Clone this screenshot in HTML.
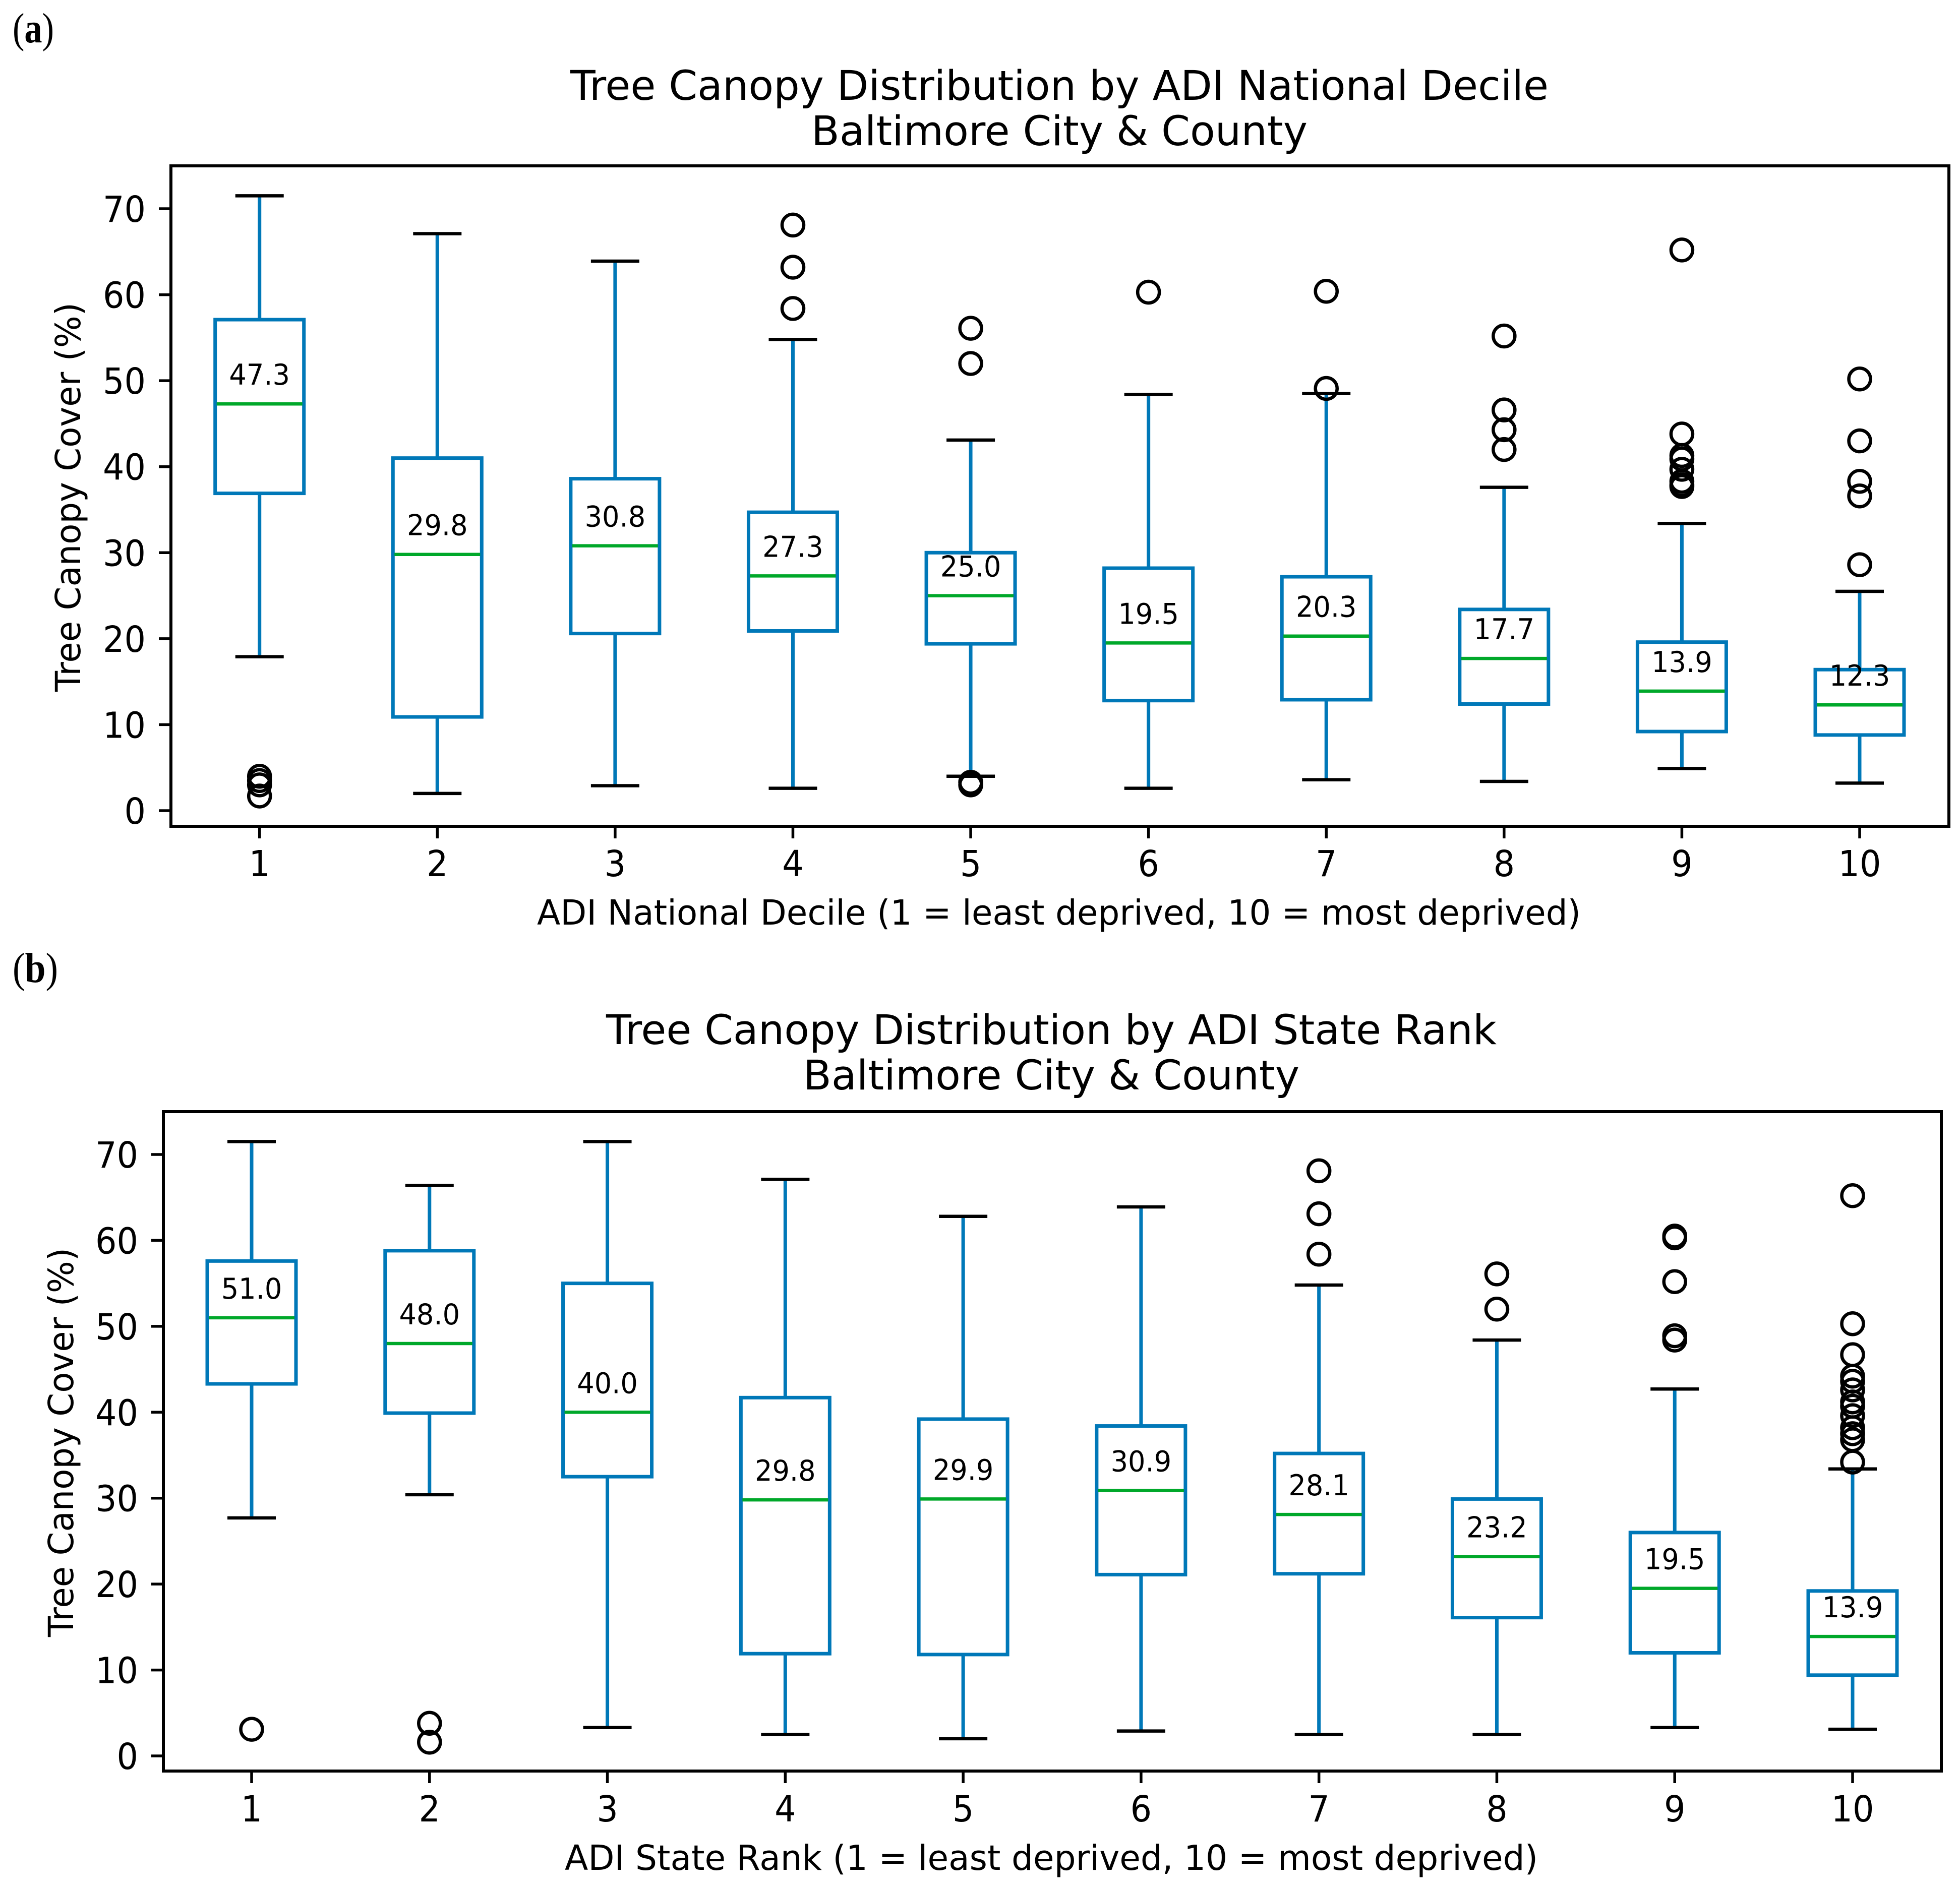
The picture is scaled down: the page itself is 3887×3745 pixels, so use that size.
<!DOCTYPE html>
<html lang="en">
<head>
<meta charset="utf-8">
<title>Tree Canopy Distribution by ADI</title>
<style>
html,body{margin:0;padding:0;background:#fff;}
svg{display:block;}
text{font-family:"DejaVu Sans","Liberation Sans",sans-serif;fill:#000;}
.panel-letter{font-family:"Liberation Serif",serif;font-size:84px;}
.panel-letter tspan{font-weight:bold;}
.title{font-size:81px;text-anchor:middle;}
.axis-label{font-size:69px;text-anchor:middle;}
</style>
</head>
<body>
<svg id="figure" xmlns="http://www.w3.org/2000/svg" width="3887" height="3745" viewBox="0 0 3887 3745">
  <rect x="0" y="0" width="3887" height="3745" fill="#fff"/>

  <text class="panel-letter" x="25" y="84" textLength="82" lengthAdjust="spacingAndGlyphs">(<tspan>a</tspan>)</text>
  <text class="title" x="2101" y="198" textLength="1940" lengthAdjust="spacingAndGlyphs">Tree Canopy Distribution by ADI National Decile</text>
  <text class="title" x="2101" y="288" textLength="984" lengthAdjust="spacingAndGlyphs">Baltimore City &amp; County</text>
  <text class="axis-label" x="2100" y="1834" textLength="2070" lengthAdjust="spacingAndGlyphs">ADI National Decile (1 = least deprived, 10 = most deprived)</text>
  <text class="axis-label" transform="translate(159,986) rotate(-90)" x="0" y="0" textLength="772" lengthAdjust="spacingAndGlyphs">Tree Canopy Cover (%)</text>
  <g id="panel-a"></g>

  <text class="panel-letter" x="25" y="1948" textLength="90" lengthAdjust="spacingAndGlyphs">(<tspan>b</tspan>)</text>
  <text class="title" x="2085" y="2071" textLength="1766" lengthAdjust="spacingAndGlyphs">Tree Canopy Distribution by ADI State Rank</text>
  <text class="title" x="2085" y="2161" textLength="984" lengthAdjust="spacingAndGlyphs">Baltimore City &amp; County</text>
  <text class="axis-label" x="2085" y="3709" textLength="1930" lengthAdjust="spacingAndGlyphs">ADI State Rank (1 = least deprived, 10 = most deprived)</text>
  <text class="axis-label" transform="translate(145,2861) rotate(-90)" x="0" y="0" textLength="772" lengthAdjust="spacingAndGlyphs">Tree Canopy Cover (%)</text>
  <g id="panel-b"></g>
</svg>

<script>
// Shared tick labels
const categories = ['1','2','3','4','5','6','7','8','9','10'];
const yTickValues = [0,10,20,30,40,50,60,70];

// Panel (a): ADI National Decile
const decileHigh   = [71.5,67.1,63.9,54.8,43.1,48.4,48.5,37.6,33.4,25.5];
const decileQ3     = [57.1,41.0,38.6,34.7,30.0,28.2,27.2,23.4,19.6,16.4];
const decileMedian = [47.3,29.8,30.8,27.3,25.0,19.5,20.3,17.7,13.9,12.3];
const decileQ1     = [36.9,10.9,20.6,20.9,19.4,12.8,12.9,12.4,9.2,8.8];
const decileLow    = [17.9,2.0,2.9,2.6,4.0,2.6,3.6,3.4,4.9,3.2];
const decileFliers = [
  [1.7,3.0,3.5,4.0],
  [],
  [],
  [68.1,63.2,58.4],
  [56.1,52.0,3.0,3.3],
  [60.3],
  [60.4,49.1],
  [55.2,46.6,44.3,42.0],
  [65.2,43.8,41.3,40.9,39.7,38.3,37.9,37.7],
  [50.2,43.0,38.3,36.6,28.6]
];

// Panel (b): ADI State Rank
const rankHigh   = [71.5,66.4,71.5,67.1,62.8,63.9,54.8,48.4,42.7,33.4];
const rankQ3     = [57.6,58.8,55.0,41.7,39.2,38.4,35.2,29.9,26.0,19.2];
const rankMedian = [51.0,48.0,40.0,29.8,29.9,30.9,28.1,23.2,19.5,13.9];
const rankQ1     = [43.3,39.9,32.5,11.9,11.8,21.1,21.2,16.1,12.0,9.4];
const rankLow    = [27.7,30.4,3.3,2.5,2.0,2.9,2.5,2.5,3.3,3.1];
const rankFliers = [
  [3.1],
  [3.8,1.6],
  [],
  [],
  [],
  [],
  [68.1,63.1,58.4],
  [56.1,52.0],
  [60.3,60.5,55.2,48.9,48.4],
  [65.2,50.3,46.7,44.2,43.6,42.6,41.2,40.7,39.6,38.2,37.5,36.8,34.2]
];

const SVG_NS = 'http://www.w3.org/2000/svg';
const BLUE = '#0078b8';
const GREEN = '#00a82a';
const BLACK = '#000';

function make(parent, tag, attrs) {
  const el = document.createElementNS(SVG_NS, tag);
  for (const key in attrs) el.setAttribute(key, attrs[key]);
  parent.appendChild(el);
  return el;
}

function segment(parent, x1, y1, x2, y2, color, width) {
  return make(parent, 'line', {x1: x1, y1: y1, x2: x2, y2: y2, stroke: color, 'stroke-width': width});
}

function narrow(el, factor) {
  el.setAttribute('textLength', el.getComputedTextLength() * factor);
  el.setAttribute('lengthAdjust', 'spacingAndGlyphs');
}

function drawPanel(rootId, frame, series) {
  const root = document.getElementById(rootId);
  const xScale = function (i) { return frame.x1 + (frame.x10 - frame.x1) * i / 9; };
  const yScale = function (v) { return frame.y0 + (frame.y70 - frame.y0) * v / 70; };

  yTickValues.forEach(function (v) {
    const tick = segment(root, frame.left - 24, yScale(v), frame.left, yScale(v), BLACK, 5.5);
    
    
    const label = make(root, 'text', {x: frame.yLabelRight, y: yScale(v) + 26, 'font-size': 71, 'text-anchor': 'end'});
    label.textContent = String(v);
    
    
    narrow(label, 0.94);
  });

  categories.forEach(function (cat, i) {
    const x = xScale(i);
    const tick = segment(root, x, frame.bottom, x, frame.bottom + 24, BLACK, 5.5);
    
    
    const label = make(root, 'text', {x: x, y: frame.xLabelBase, 'font-size': 71, 'text-anchor': 'middle'});
    label.textContent = cat;
    
    
    narrow(label, 0.94);

    const upper = segment(root, x, yScale(series.q3[i]), x, yScale(series.high[i]), BLUE, 7);
    
    
    const lower = segment(root, x, yScale(series.q1[i]), x, yScale(series.low[i]), BLUE, 7);
    
    

    const box = make(root, 'rect', {
      x: x - 88,
      y: yScale(series.q3[i]),
      width: 176,
      height: yScale(series.q1[i]) - yScale(series.q3[i]),
      fill: 'none',
      stroke: BLUE,
      'stroke-width': 7
    });
    
    

    const median = segment(root, x - 85, yScale(series.median[i]), x + 85, yScale(series.median[i]), GREEN, 6.5);
    
    

    const capHigh = segment(root, x - 48, yScale(series.high[i]), x + 48, yScale(series.high[i]), BLACK, 6.5);
    
    
    const capLow = segment(root, x - 48, yScale(series.low[i]), x + 48, yScale(series.low[i]), BLACK, 6.5);
    
    

    series.fliers[i].forEach(function (v) {
      const point = make(root, 'circle', {cx: x, cy: yScale(v), r: 21.5, fill: 'none', stroke: BLACK, 'stroke-width': 6.5});
      
      
    });

    const value = make(root, 'text', {x: x, y: yScale(series.median[i]) - 38, 'font-size': 57, 'text-anchor': 'middle'});
    value.textContent = series.median[i].toFixed(1);
    
    
    narrow(value, 0.95);
  });

  const border = make(root, 'rect', {
    x: frame.left,
    y: frame.top,
    width: frame.right - frame.left,
    height: frame.bottom - frame.top,
    fill: 'none',
    stroke: BLACK,
    'stroke-width': 6
  });
  
  
}

drawPanel('panel-a',
  {left: 339, right: 3865, top: 329, bottom: 1639, x1: 514.7, x10: 3688, y0: 1608, y70: 414, yLabelRight: 289, xLabelBase: 1738},
  {high: decileHigh, q3: decileQ3, median: decileMedian, q1: decileQ1, low: decileLow, fliers: decileFliers});

drawPanel('panel-b',
  {left: 324, right: 3850, top: 2205, bottom: 3513, x1: 499, x10: 3674, y0: 3483, y70: 2290, yLabelRight: 274, xLabelBase: 3613},
  {high: rankHigh, q3: rankQ3, median: rankMedian, q1: rankQ1, low: rankLow, fliers: rankFliers});
</script>
</body>
</html>
